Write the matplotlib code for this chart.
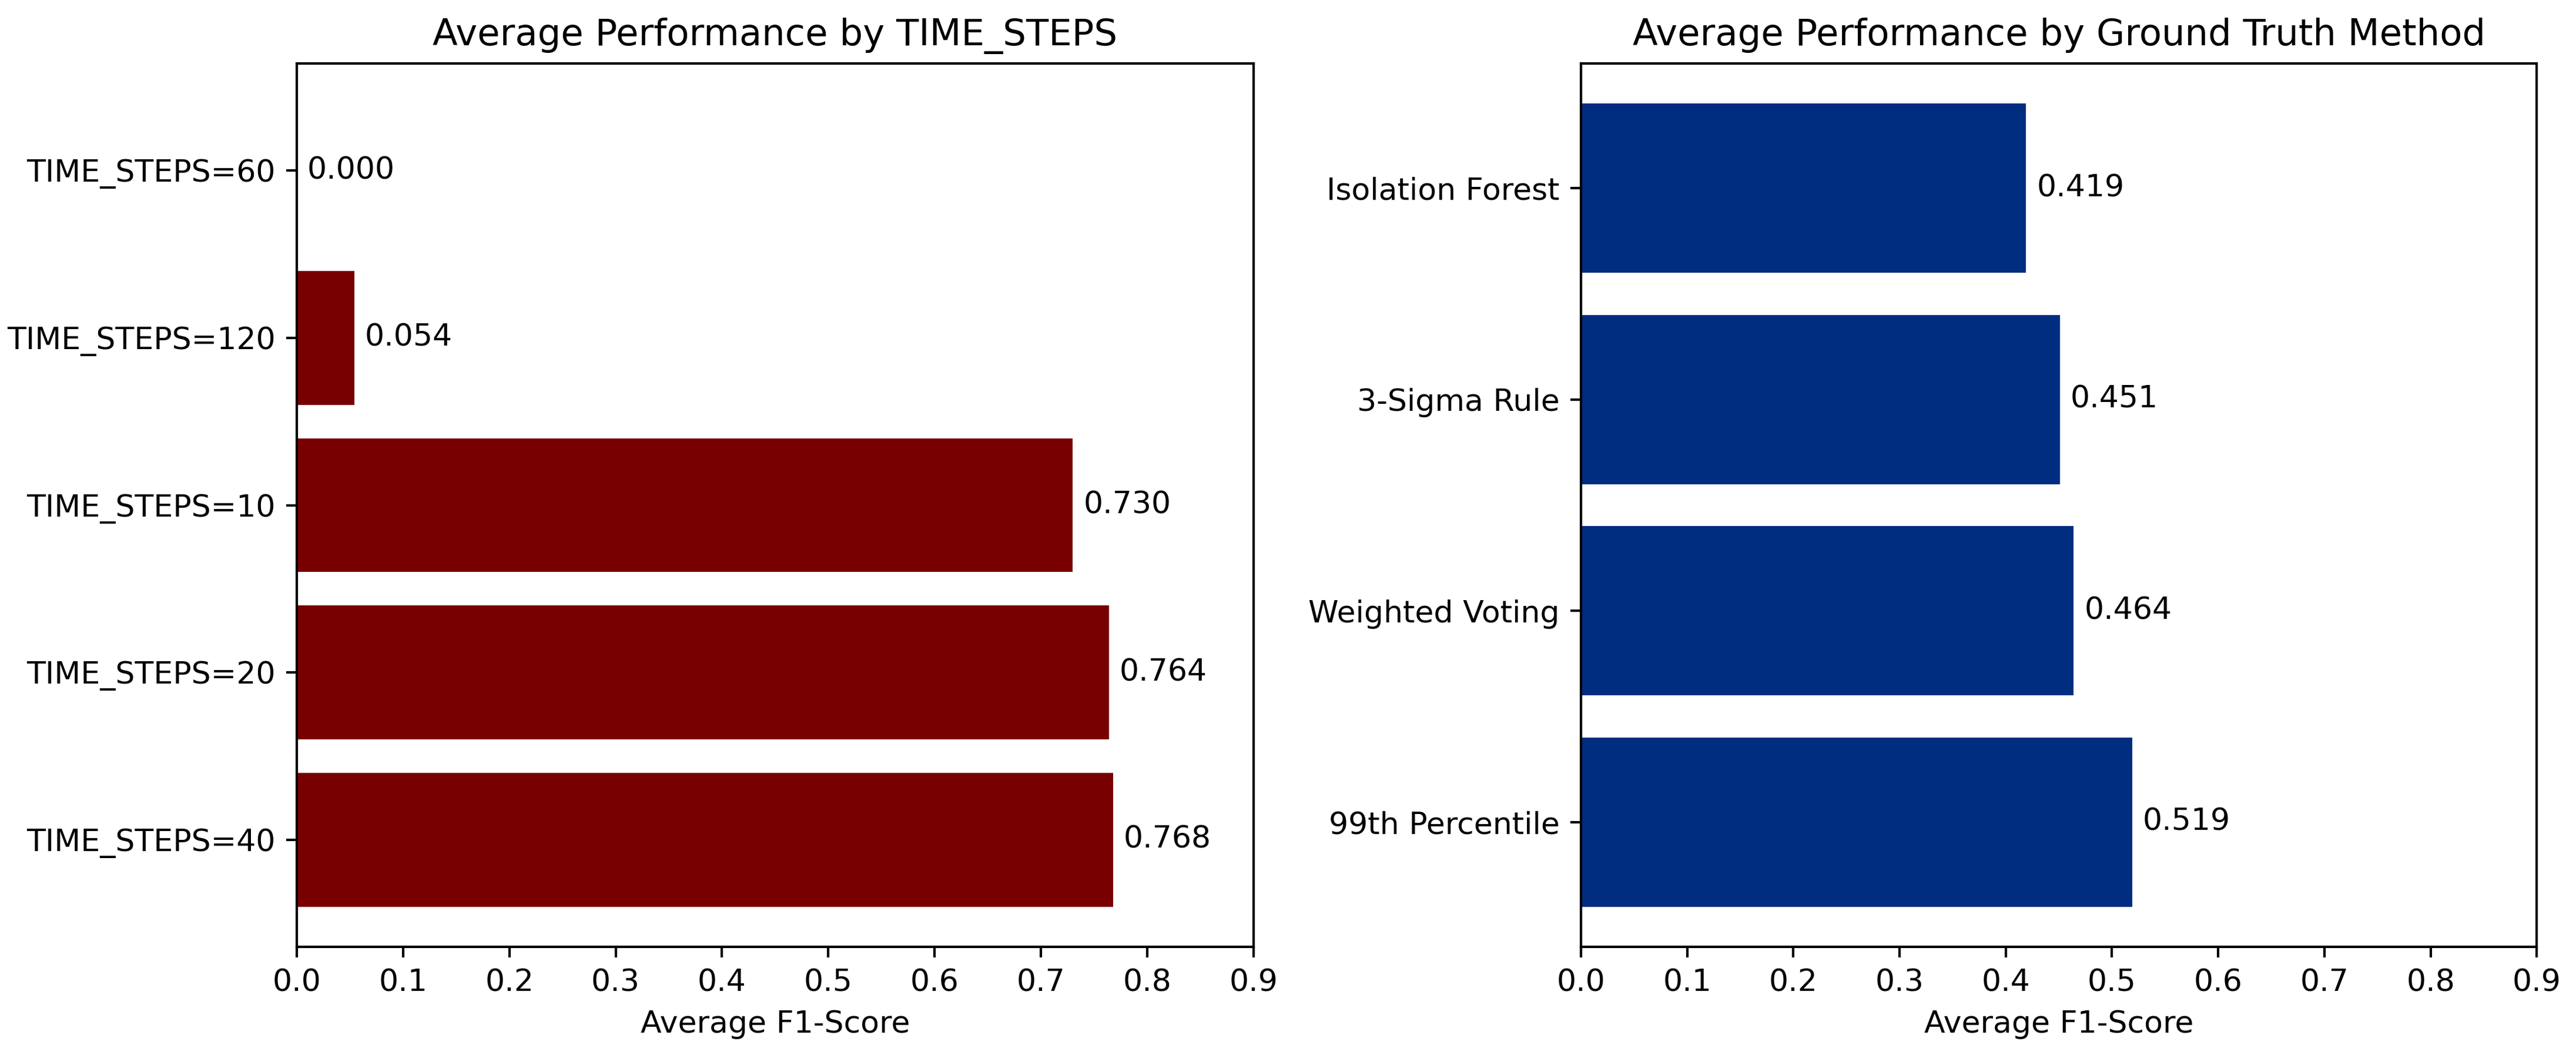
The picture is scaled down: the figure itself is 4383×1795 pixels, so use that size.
import matplotlib
matplotlib.use("Agg")
import matplotlib.pyplot as plt

# data, bottom bar first
ts_labels = ["TIME_STEPS=40", "TIME_STEPS=20", "TIME_STEPS=10", "TIME_STEPS=120", "TIME_STEPS=60"]
ts_scores = [0.768, 0.764, 0.730, 0.054, 0.000]

gt_labels = ["99th Percentile", "Weighted Voting", "3-Sigma Rule", "Isolation Forest"]
gt_scores = [0.519, 0.464, 0.451, 0.419]

DPI = 375


def bar_panel(ax, labels, scores, color, title):
    ax.barh(labels, scores, color=color)
    for i, v in enumerate(scores):
        ax.text(v + 0.01, i, "{:.3f}".format(v), va="center")
    ax.set_xlim(0, 0.9)
    ax.set_xlabel("Average F1-Score")
    ax.set_title(title)


fig, (ax1, ax2) = plt.subplots(1, 2, figsize=(4383 / DPI, 1795 / DPI), dpi=DPI)

bar_panel(ax1, ts_labels, ts_scores, "#790000", "Average Performance by TIME_STEPS")
bar_panel(ax2, gt_labels, gt_scores, "#002d80", "Average Performance by Ground Truth Method")

# axes boxes placed by pixel measurements of the reference
ax1.set_position([0.1152, 0.1025, 0.4866 - 0.1152, 0.9398 - 0.1025])
ax2.set_position([0.6137, 0.1025, 0.9848 - 0.6137, 0.9398 - 0.1025])

plt.savefig("out.png", dpi=DPI)
